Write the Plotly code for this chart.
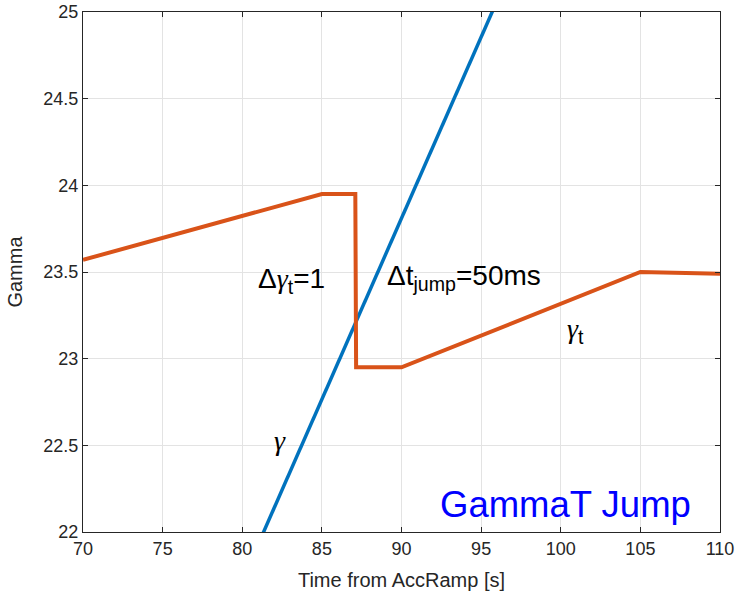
import plotly.graph_objects as go

# Transition energy gamma_t with the programmed jump, and beam gamma ramp
t_gt = [70, 85, 87.1, 87.15, 90, 105, 110]
gamma_t = [23.57, 23.95, 23.95, 22.95, 22.95, 23.50, 23.49]

t_g = [80, 100]
gamma = [21.72, 25.90]

x_ticks = [70, 75, 80, 85, 90, 95, 100, 105, 110]
y_ticks = [22, 22.5, 23, 23.5, 24, 24.5, 25]

BLUE = "#0072BD"
ORANGE = "#D95319"
AXIS = "#262626"
GRID = "#e3e3e3"
FONT = "Liberation Sans, Arial, sans-serif"
GREEK = "font-family:Liberation Serif;font-style:italic"

fig = go.Figure()
fig.add_trace(go.Scatter(x=t_g, y=gamma, mode="lines",
                         line=dict(color=BLUE, width=3.5), showlegend=False))
fig.add_trace(go.Scatter(x=t_gt, y=gamma_t, mode="lines",
                         line=dict(color=ORANGE, width=4), showlegend=False))

axis_common = dict(
    showgrid=True, gridcolor=GRID, gridwidth=1,
    showline=True, linecolor=AXIS, linewidth=1, mirror="ticks",
    ticks="inside", ticklen=5, tickcolor=AXIS, tickwidth=1,
    tickfont=dict(family=FONT, size=18, color=AXIS),
    zeroline=False, automargin=False,
)

fig.update_xaxes(range=[70, 110], tickvals=x_ticks,
                 ticktext=[str(v) for v in x_ticks],
                 title=dict(text="Time from AccRamp [s]",
                            font=dict(family=FONT, size=20, color=AXIS)),
                 **axis_common)
fig.update_yaxes(range=[22, 25], tickvals=y_ticks,
                 ticktext=[f"{v:g}" for v in y_ticks],
                 title=dict(text="Gamma",
                            font=dict(family=FONT, size=20, color=AXIS)),
                 **axis_common)

text_font = dict(family=FONT, size=28, color="black")
annotations = [
    dict(x=83.1, y=23.45,
         text=f"Δ<span style=\"{GREEK}\">γ</span><sub>t</sub>=1"),
    dict(x=88.95, y=23.47, text="Δt<sub>jump</sub>=50ms", xanchor="left"),
    dict(x=100.9, y=23.16,
         text=f"<span style=\"{GREEK}\">γ</span><sub>t</sub>"),
    dict(x=82.4, y=22.53, text=f"<span style=\"{GREEK}\">γ</span>"),
]
for a in annotations:
    fig.add_annotation(showarrow=False, font=text_font,
                       xref="x", yref="y", **a)

fig.add_annotation(x=92.3, y=22.16, xref="x", yref="y", xanchor="left",
                   showarrow=False, text="GammaT Jump",
                   font=dict(family=FONT, size=36.5, color="#0000FF"))

fig.update_layout(
    width=738, height=597,
    margin=dict(l=83, r=18, t=12, b=65),
    paper_bgcolor="white", plot_bgcolor="white",
)

fig.write_html("out.html")
